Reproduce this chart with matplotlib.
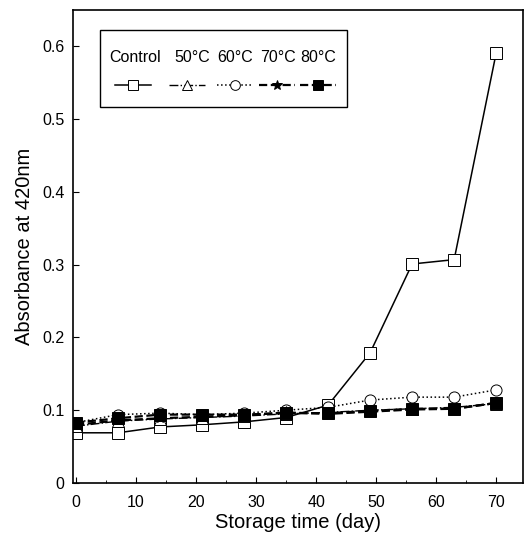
import matplotlib.pyplot as plt
from matplotlib.lines import Line2D
from matplotlib.patches import Rectangle

plt.rcParams['font.family'] = ['Liberation Sans', 'DejaVu Sans']

days = [0, 7, 14, 21, 28, 35, 42, 49, 56, 63, 70]
control = [0.069, 0.069, 0.077, 0.080, 0.084, 0.090, 0.107, 0.179, 0.301, 0.307, 0.591]
t50 = [0.078, 0.085, 0.088, 0.090, 0.092, 0.095, 0.097, 0.100, 0.102, 0.104, 0.109]
t60 = [0.083, 0.094, 0.096, 0.094, 0.096, 0.100, 0.104, 0.114, 0.118, 0.118, 0.128]
t70 = [0.080, 0.086, 0.089, 0.091, 0.093, 0.097, 0.095, 0.098, 0.101, 0.102, 0.110]
t80 = [0.083, 0.089, 0.094, 0.094, 0.094, 0.096, 0.096, 0.099, 0.102, 0.102, 0.110]

labels = ["Control", "50°C", "60°C", "70°C", "80°C"]
series = [control, t50, t60, t70, t80]
styles = [
    dict(ls="-", lw=1.1, marker="s", mfc="white", ms=8),
    dict(ls="-.", lw=1.0, marker="^", mfc="white", ms=8),
    dict(ls=":", lw=1.1, marker="o", mfc="white", ms=8),
    dict(ls="--", lw=1.6, marker="*", mfc="black", ms=8),
    dict(ls="--", lw=1.6, marker="s", mfc="black", ms=8),
]

fig = plt.figure(figsize=(5.29, 5.35), dpi=100)
ax = fig.add_axes([0.138, 0.0972, 0.851, 0.884])

for vals, st in zip(series, styles):
    ax.plot(days, vals, color="black", mec="black", mew=0.7, **st)

ax.set_xlim(-0.5, 74.5)
ax.set_ylim(0, 0.65)
ax.set_xticks(range(0, 71, 10))
ax.set_xticks(range(5, 75, 10), minor=True)
ax.set_yticks([0, 0.1, 0.2, 0.3, 0.4, 0.5, 0.6])
ax.set_yticklabels(["0", "0.1", "0.2", "0.3", "0.4", "0.5", "0.6"])
ax.tick_params(direction="in", labelsize=11.5, length=4)
ax.tick_params(which="minor", direction="in", length=2)
ax.tick_params(axis="x", pad=9)
ax.tick_params(axis="y", pad=6)
ax.set_xlabel("Storage time (day)", fontsize=14.5, labelpad=2)
ax.set_ylabel("Absorbance at 420nm", fontsize=14.5, labelpad=6)
for sp in ax.spines.values():
    sp.set_linewidth(1.2)

# legend with labels above the handles
ax.add_patch(Rectangle((0.06, 0.795), 0.549, 0.163, transform=ax.transAxes,
                       fill=False, ec="black", lw=1.0, zorder=5))
label_x = [0.138, 0.264, 0.360, 0.456, 0.544]
handle_x = [0.133, 0.253, 0.360, 0.453, 0.544]
for lab, st, x, hx in zip(labels, styles, label_x, handle_x):
    ax.text(x, 0.899, lab, transform=ax.transAxes, ha="center", va="center",
            fontsize=11.5, zorder=6)
    ax.add_line(Line2D([hx - 0.04, hx, hx + 0.04], [0.841, 0.841, 0.841],
                       transform=ax.transAxes, color="black", mec="black", mew=0.7,
                       markevery=[1], zorder=6, **dict(st, ms=7)))

fig.savefig("out.png", dpi=100)
